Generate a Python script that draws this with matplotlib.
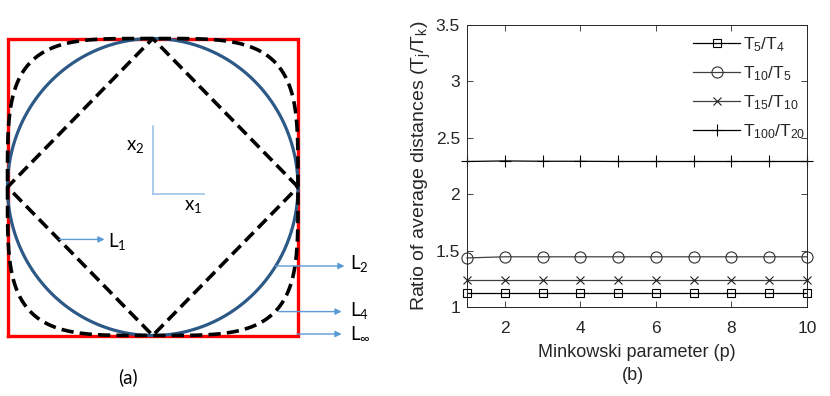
import numpy as np
import matplotlib
matplotlib.use("Agg")
import matplotlib.pyplot as plt

plt.rcParams['font.family'] = ['Liberation Sans', 'DejaVu Sans']
plt.rcParams['mathtext.fontset'] = 'custom'
plt.rcParams['mathtext.rm'] = 'Liberation Sans'

# ---- data (panel b) ----
p_values = [1, 2, 3, 4, 5, 6, 7, 8, 9, 10]
t5_t4 = [1.12, 1.12, 1.12, 1.12, 1.12, 1.12, 1.12, 1.12, 1.12, 1.12]
t10_t5 = [1.435, 1.445, 1.445, 1.445, 1.445, 1.445, 1.445, 1.445, 1.445, 1.445]
t15_t10 = [1.24, 1.24, 1.24, 1.24, 1.24, 1.24, 1.24, 1.24, 1.24, 1.24]
t100_t20 = [2.29, 2.295, 2.292, 2.292, 2.29, 2.29, 2.29, 2.29, 2.29, 2.29]
series_labels = [r'$\mathregular{T_5/T_4}$', r'$\mathregular{T_{10}/T_5}$',
                 r'$\mathregular{T_{15}/T_{10}}$', r'$\mathregular{T_{100}/T_{20}}$']
yticks = [1, 1.5, 2, 2.5, 3, 3.5]
ytick_labels = ['1', '1.5', '2', '2.5', '3', '3.5']
xticks = [2, 4, 6, 8, 10]

# ---- data (panel a) ----
norm_orders = [1, 2, 4]
norm_labels = [r'$\mathregular{L_1}$', r'$\mathregular{L_2}$',
               r'$\mathregular{L_4}$', r'$\mathregular{L_\infty}$']

W, H = 830, 396
fig = plt.figure(figsize=(W / 100, H / 100), dpi=100)

def frac_axes(x0, y0, x1, y1):
    return fig.add_axes([x0 / W, 1 - y1 / H, (x1 - x0) / W, (y1 - y0) / H])

# ================= panel (a) =================
axa = frac_axes(7.5, 38.5, 298, 335.5)
axa.set_xlim(-1, 1)
axa.set_ylim(-1, 1)
axa.axis('off')

t = np.linspace(0, 2 * np.pi, 721)
def unit_ball(q):
    c, s = np.cos(t), np.sin(t)
    return (np.sign(c) * np.abs(c) ** (2 / q), np.sign(s) * np.abs(s) ** (2 / q))

dash = (0, (3.4, 1.7))
# L_inf square
axa.plot([-1, 1, 1, -1, -1], [-1, -1, 1, 1, -1], color='#FF0000', lw=2.4,
         clip_on=False, solid_joinstyle='miter', zorder=1)
# L4
x4, y4 = unit_ball(norm_orders[2])
axa.plot(x4, y4, color='black', lw=2.6, ls=dash, clip_on=False, zorder=3)
# L2
x2c, y2c = unit_ball(norm_orders[1])
axa.plot(x2c, y2c, color='#2D5986', lw=2.3, clip_on=False, zorder=2)
# L1
x1d, y1d = unit_ball(norm_orders[0])
axa.plot(x1d, y1d, color='black', lw=2.6, ls=dash, clip_on=False, zorder=3)

# small coordinate axes
blue_light = '#9DC3E6'
axa.plot([0, 0], [-0.044, 0.41], color=blue_light, lw=1.2, clip_on=False)
axa.plot([0, 0.35], [-0.044, -0.044], color=blue_light, lw=1.2, clip_on=False)
lab_font = dict(family=['Lato', 'DejaVu Sans'], fontsize=13.5, color='black')
axa.text(-0.12, 0.27, r'$\mathregular{x_2}$', ha='center', va='center', **lab_font)
axa.text(0.28, -0.13, r'$\mathregular{x_1}$', ha='center', va='center', **lab_font)

arrow_col = '#5B9BD5'
def arrow(x0, x1, y):
    axa.annotate('', xy=(x1, y), xytext=(x0, y), xycoords='data',
                 arrowprops=dict(arrowstyle='-|>', color=arrow_col, lw=1.0,
                                 mutation_scale=9, shrinkA=0, shrinkB=0),
                 annotation_clip=False)

arrow(-0.643, -0.332, -0.353)
axa.text(-0.31, -0.37, norm_labels[0], ha='left', va='center', **lab_font)
arrow(0.845, 1.32, -0.532)
axa.text(1.36, -0.515, norm_labels[1], ha='left', va='center', **lab_font)
arrow(0.868, 1.30, -0.839)
axa.text(1.36, -0.83, norm_labels[2], ha='left', va='center', **lab_font)
arrow(0.993, 1.30, -0.99)
axa.text(1.36, -0.98, norm_labels[3], ha='left', va='center', **lab_font)

fig.text(128 / W, 1 - 377 / H, '(a)', ha='center', va='center',
         family=['Lato', 'DejaVu Sans'], fontsize=13.5)

# ================= panel (b) =================
axb = frac_axes(467, 25, 807, 307)
spine_col = '#262626'
axb.plot(p_values, t5_t4, color='black', lw=0.9, marker='s', ms=5.5,
         mfc='none', mec='black', mew=0.8, label=series_labels[0], clip_on=False)
axb.plot(p_values, t10_t5, color='#404040', lw=0.9, marker='o', ms=8,
         mfc='none', mec='#303030', mew=0.8, label=series_labels[1], clip_on=False)
axb.plot(p_values, t15_t10, color='#404040', lw=0.9, marker='x', ms=5.5,
         mec='#202020', mew=0.8, label=series_labels[2], clip_on=False)
axb.plot(p_values, t100_t20, color='black', lw=0.9, marker='+', ms=8,
         mec='black', mew=0.8, label=series_labels[3], clip_on=False)

axb.set_xlim(1, 10)
axb.set_ylim(1, 3.5)
axb.set_xticks(xticks)
axb.set_xticklabels([str(v) for v in xticks])
axb.set_yticks(yticks)
axb.set_yticklabels(ytick_labels)
axb.tick_params(direction='in', length=4, width=0.6, colors=spine_col,
                labelsize=12.5, top=True, right=True, pad=5)
axb.tick_params(axis='x', pad=10)
for sp in axb.spines.values():
    sp.set_color(spine_col)
    sp.set_linewidth(0.7)
axb.set_xlabel('Minkowski parameter (p)', fontsize=13, color=spine_col, labelpad=6)
axb.set_ylabel(r'Ratio of average distances ($\mathregular{T_j/T_k}$)',
               fontsize=14, color=spine_col, labelpad=2)
fig.text(633 / W, 1 - 376 / H, '(b)', ha='center', va='center',
         fontsize=13, color=spine_col)

leg = axb.legend(loc='upper left', bbox_to_anchor=(0.665, 0.965), frameon=False,
                 fontsize=12.5, handlelength=2.7, handletextpad=0.2,
                 labelspacing=0.6, borderpad=0, borderaxespad=0)
for txt in leg.get_texts():
    txt.set_color(spine_col)

fig.savefig('out.png', dpi=100)
